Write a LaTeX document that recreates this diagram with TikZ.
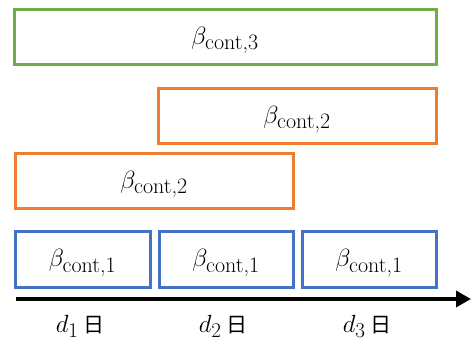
\documentclass[tikz,border=0pt]{standalone}
\usetikzlibrary{arrows.meta}
\usepackage{fontspec}
\newfontfamily\cjk{Noto Sans CJK SC}
\definecolor{ogreen}{RGB}{112,173,71}
\definecolor{oorange}{RGB}{237,125,49}
\definecolor{oblue}{RGB}{68,114,196}
\begin{document}
\begin{tikzpicture}[x=1pt,y=-1pt,
  bx/.style={draw=#1, line width=3pt, inner sep=0pt, text=black, font=\fontsize{30}{34}\selectfont},
  lbl/.style={font=\fontsize{28}{32}\selectfont}]
\useasboundingbox (0,0) rectangle (471,343);
\newcommand{\bc}[1]{\raisebox{-4pt}[\height][\depth]{$\beta_{\mbox{\fontsize{22}{24}\selectfont cont,#1}}$}}
\newcommand{\dd}[1]{$d_{\mbox{\fontsize{21}{24}\selectfont #1}}$\,{\cjk\fontsize{21}{24}\selectfont 日}}
\node[bx=ogreen, minimum width=422pt, minimum height=55pt] (g) at (225,36.5) {\bc{3}};
\node[bx=oorange, minimum width=278pt, minimum height=55pt] (o1) at (297,115.5) {\bc{2}};
\node[bx=oorange, minimum width=278pt, minimum height=55pt] (o2) at (154,180.5) {\bc{2}};
\node[bx=oblue, minimum width=135pt, minimum height=56pt] (b1) at (82.5,259) {\bc{1}};
\node[bx=oblue, minimum width=134pt, minimum height=56pt] (b2) at (226,259) {\bc{1}};
\node[bx=oblue, minimum width=134pt, minimum height=56pt] (b3) at (369,259) {\bc{1}};
\coordinate (a0) at (16,299);
\coordinate (a1) at (471,299);
\draw[line width=3.5pt, -{Triangle[length=15pt,width=16pt]}] (a0) -- (a1);
\node[lbl] (d1) at (80,326.5) {\dd{1}};
\node[lbl] (d2) at (223,326.5) {\dd{2}};
\node[lbl] (d3) at (367,326.5) {\dd{3}};
\end{tikzpicture}
\end{document}
